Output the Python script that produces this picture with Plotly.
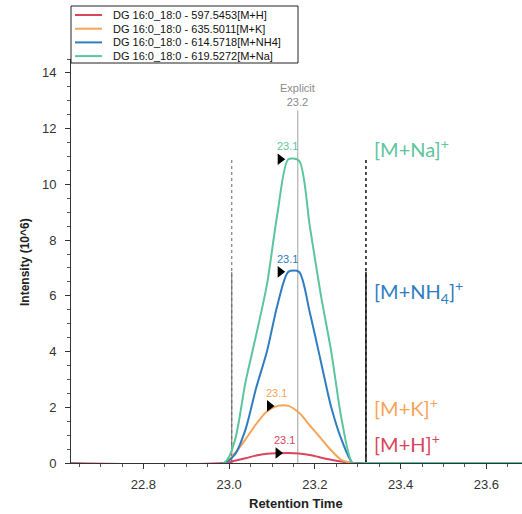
import plotly.graph_objects as go

# ---------------- data ----------------
rt = [22.60, 22.988, 23.013, 23.038, 23.063, 23.088, 23.113, 23.138, 23.163,
      23.188, 23.213, 23.238, 23.263, 23.288, 23.313, 23.70]
int_h = [0, 0, 0.08, 0.17, 0.27, 0.33, 0.35, 0.36, 0.34, 0.29, 0.20, 0.12, 0.05, 0, 0, 0]
int_k = [0, 0, 0.35, 0.85, 1.40, 1.85, 2.05, 2.05, 1.80, 1.35, 0.90, 0.45, 0.10, 0, 0, 0]
int_nh4 = [0, 0, 0.30, 1.20, 2.70, 4.00, 5.70, 6.86, 6.86, 5.40, 3.70, 2.00, 0.80, 0, 0, 0]
int_na = [0, 0, 0.80, 2.90, 4.60, 6.40, 9.00, 10.90, 10.85, 8.50, 6.10, 4.00, 1.50, 0, 0, 0]

names = ["DG 16:0_18:0 - 597.5453[M+H]", "DG 16:0_18:0 - 635.5011[M+K]",
         "DG 16:0_18:0 - 614.5718[M+NH4]", "DG 16:0_18:0 - 619.5272[M+Na]"]
ion_labels = ["[M+H]<sup>+</sup>", "[M+K]<sup>+</sup>",
              "[M+NH<sub>4</sub>]<sup>+</sup>", "[M+Na]<sup>+</sup>"]
apex_rt = [23.13, 23.11, 23.135, 23.135]
apex_label = ["23.1", "23.1", "23.1", "23.1"]
integration_bounds = [23.006, 23.319]
explicit_rt = 23.160
explicit_label = "Explicit<br>23.2"

x_ticks = [22.8, 23.0, 23.2, 23.4, 23.6]
y_ticks = [0, 2, 4, 6, 8, 10, 12, 14]

# ---------------- style ----------------
colors = ["#d8455c", "#f8a356", "#2f7dc0", "#5cc59e"]
series = [int_h, int_k, int_nh4, int_na]
smooth = [1.0, 1.0, 0.75, 0.75]

W, H = 522, 514
ML, MR, MT, MB = 71, 0, 59, 51
PW, PH = W - ML - MR, H - MT - MB


def pxx(px):
    return (px - ML) / PW


def pxy(py):
    return (H - MB - py) / PH


fig = go.Figure()

# integration boundary lines and explicit RT line
na_peak = max(int_na)
nh4_peak = max(int_nh4)
shapes = []
for i, xb in enumerate(integration_bounds):
    col = "#666666" if i == 0 else "#222222"
    wid = 1 if i == 0 else 1.6
    shapes.append(dict(type="line", xref="x", yref="y", x0=xb, x1=xb, y0=0, y1=na_peak,
                       line=dict(color=col, width=wid, dash="dot"), layer="below"))
    shapes.append(dict(type="line", xref="x", yref="y", x0=xb, x1=xb, y0=0, y1=nh4_peak,
                       line=dict(color=col, width=wid), layer="below"))
shapes.append(dict(type="line", xref="x", yref="y", x0=explicit_rt, x1=explicit_rt, y0=0, y1=12.65,
                   line=dict(color="#a0a0a0", width=1), layer="below"))

for vals, col, nm, sm in zip(series, colors, names, smooth):
    fig.add_trace(go.Scatter(x=rt, y=vals, mode="lines", name=nm,
                             line=dict(color=col, width=2, shape="spline", smoothing=sm),
                             showlegend=False))

annotations = []
# apex arrows and labels
for vals, col, ax_rt, lab in zip(series, colors, apex_rt, apex_label):
    pk = max(vals)
    fig.add_trace(go.Scatter(x=[ax_rt - 0.016], y=[pk], mode="markers",
                             marker=dict(symbol="triangle-right", size=10, color="black"),
                             showlegend=False, hoverinfo="skip", cliponaxis=False))
    annotations.append(dict(x=ax_rt, y=pk, xref="x", yref="y", text=lab, showarrow=False,
                            yshift=13, font=dict(family="Liberation Sans", size=11, color=col)))

annotations.append(dict(x=explicit_rt, y=12.65, xref="x", yref="y", text=explicit_label,
                        showarrow=False, yanchor="bottom", yshift=1,
                        font=dict(family="Liberation Sans", size=11, color="#8a8a8a")))

# ion labels on the right
ion_y = [0.71, 2.0, 6.13, 11.29]
for lab, col, yy in zip(ion_labels, colors, ion_y):
    annotations.append(dict(x=23.333, y=yy, xref="x", yref="y", text=lab, showarrow=False,
                            xanchor="left", yanchor="middle",
                            font=dict(family="Lato", size=20, color=col)))

# manual legend
shapes.append(dict(type="rect", xref="paper", yref="paper", x0=pxx(71), x1=pxx(298),
                   y0=pxy(63), y1=pxy(6), line=dict(color="#222222", width=1),
                   fillcolor="white", layer="above"))
for i, (nm, col) in enumerate(zip(names, colors)):
    yc = 15 + i * 13.7
    shapes.append(dict(type="line", xref="paper", yref="paper", x0=pxx(75), x1=pxx(102),
                       y0=pxy(yc), y1=pxy(yc), line=dict(color=col, width=2), layer="above"))
    annotations.append(dict(x=pxx(111), y=pxy(yc), xref="paper", yref="paper", text=nm,
                            showarrow=False, xanchor="left", yanchor="middle",
                            font=dict(family="Liberation Sans", size=11, color="#111111")))

# axis titles
annotations.append(dict(x=pxx(25), y=pxy(262), xref="paper", yref="paper",
                        text="<b>Intensity (10^6)</b>", textangle=-90, showarrow=False,
                        xanchor="center", yanchor="middle",
                        font=dict(family="Liberation Sans", size=12, color="#222222")))
annotations.append(dict(x=pxx(296), y=pxy(503), xref="paper", yref="paper",
                        text="<b>Retention Time</b>", showarrow=False,
                        xanchor="center", yanchor="middle",
                        font=dict(family="Liberation Sans", size=13, color="#222222")))

fig.update_layout(
    width=W, height=H,
    margin=dict(l=ML, r=MR, t=MT, b=MB),
    paper_bgcolor="white", plot_bgcolor="white",
    shapes=shapes, annotations=annotations,
    showlegend=False,
    xaxis=dict(range=[22.631, 23.683], tickvals=x_ticks, ticktext=[f"{v:.1f}" for v in x_ticks],
               ticks="outside", ticklen=5, tickcolor="#333333", showline=True,
               linecolor="#333333", linewidth=1, showgrid=False, zeroline=False,
               minor=dict(dtick=0.05, tick0=22.8, ticks="outside", ticklen=3, tickcolor="#555555"),
               ticklabelstandoff=4,
               tickfont=dict(family="Liberation Sans", size=13, color="#333333")),
    yaxis=dict(range=[0, 14.5], tickvals=y_ticks, ticks="outside", ticklen=5,
               tickcolor="#333333", showline=True, linecolor="#333333", linewidth=1,
               showgrid=False, zeroline=False,
               minor=dict(dtick=0.5, tick0=0, ticks="outside", ticklen=3, tickcolor="#555555"),
               ticklabelstandoff=6,
               tickfont=dict(family="Liberation Sans", size=13, color="#333333")),
)

fig.write_html("out.html")
